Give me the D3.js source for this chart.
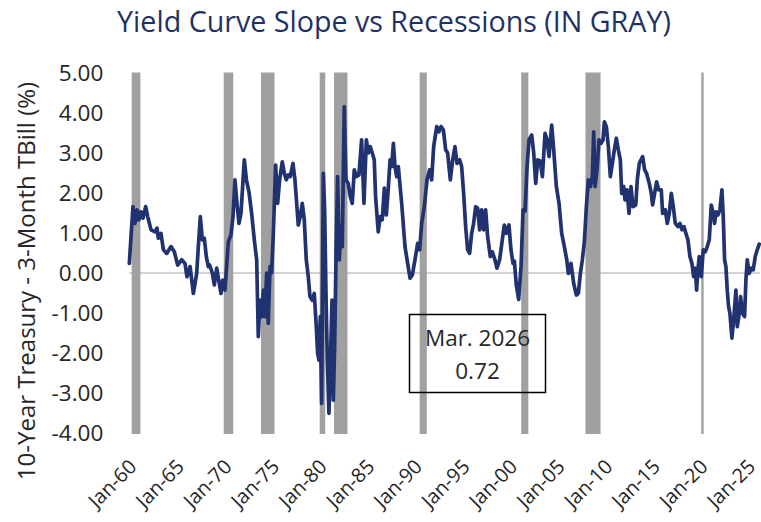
<!DOCTYPE html>
<html>
<head>
<meta charset="utf-8">
<script src="https://cdn.jsdelivr.net/npm/d3@7"></script>
<style>
  html, body { margin: 0; padding: 0; background: #ffffff; }
  svg { display: block; font-family: "Open Sans", "Noto Sans", sans-serif; }
</style>
</head>
<body>
<svg id="chart" width="761" height="522"></svg>
<script>
// ---------------- DATA ----------------
const titleText = "Yield Curve Slope vs Recessions (IN GRAY)";
const yAxisTitle = "10-Year Treasury - 3-Month TBill (%)";

// decimal year of each reading
const dates = [
  1960.00,1960.18,1960.39,1960.60,1960.81,1961.02,1961.23,1961.44,1961.72,1961.93,
  1962.28,1962.70,1962.91,1963.05,1963.33,1963.58,1963.93,1964.38,1964.73,1965.08,
  1965.50,1965.85,1966.06,1966.38,1966.73,1967.08,1967.25,1967.46,1967.67,1967.88,
  1968.09,1968.30,1968.44,1968.72,1968.93,1969.18,1969.42,1969.63,1969.81,1970.05,
  1970.22,1970.40,1970.68,1970.89,1971.10,1971.31,1971.52,1971.73,1972.08,1972.30,
  1972.57,1972.85,1973.13,1973.38,1973.55,1973.73,1973.90,1974.08,1974.25,1974.43,
  1974.60,1974.78,1974.95,1975.13,1975.37,1975.58,1975.79,1976.07,1976.28,1976.49,
  1976.70,1976.91,1977.19,1977.40,1977.75,1977.96,1978.17,1978.38,1978.59,1978.80,
  1978.98,1979.22,1979.43,1979.64,1979.78,1979.92,1980.06,1980.20,1980.38,1980.52,
  1980.66,1980.80,1980.97,1981.15,1981.29,1981.43,1981.57,1981.71,1981.88,1982.06,
  1982.23,1982.37,1982.58,1982.76,1983.00,1983.21,1983.42,1983.63,1983.88,1984.12,
  1984.40,1984.65,1984.90,1985.10,1985.31,1985.52,1985.73,1985.87,1986.15,1986.36,
  1986.57,1986.79,1987.00,1987.20,1987.39,1987.56,1987.74,1987.91,1988.09,1988.26,
  1988.61,1988.96,1989.24,1989.49,1989.73,1990.01,1990.29,1990.50,1990.71,1990.99,
  1991.27,1991.55,1991.76,1991.97,1992.29,1992.53,1992.74,1992.99,1993.23,1993.44,
  1993.72,1993.97,1994.21,1994.42,1994.70,1994.91,1995.12,1995.33,1995.54,1995.75,
  1995.96,1996.17,1996.38,1996.59,1996.80,1997.01,1997.22,1997.43,1997.64,1997.92,
  1998.13,1998.41,1998.62,1998.90,1999.18,1999.39,1999.60,1999.88,2000.09,2000.31,
  2000.45,2000.65,2000.90,2001.15,2001.36,2001.57,2001.78,2001.99,2002.27,2002.48,
  2002.69,2002.90,2003.15,2003.39,2003.67,2003.88,2004.09,2004.37,2004.58,2004.86,
  2005.14,2005.42,2005.70,2005.95,2006.12,2006.40,2006.68,2006.96,2007.17,2007.38,
  2007.59,2007.80,2008.01,2008.22,2008.43,2008.64,2008.78,2008.92,2009.13,2009.34,
  2009.55,2009.76,2009.90,2010.11,2010.32,2010.53,2010.74,2010.95,2011.16,2011.37,
  2011.58,2011.72,2011.93,2012.07,2012.28,2012.49,2012.70,2012.91,2013.20,2013.36,
  2013.57,2013.92,2014.13,2014.34,2014.62,2014.83,2014.97,2015.18,2015.39,2015.60,
  2015.88,2016.02,2016.30,2016.51,2016.72,2016.93,2017.14,2017.35,2017.63,2017.84,
  2018.05,2018.26,2018.47,2018.68,2018.89,2019.10,2019.28,2019.45,2019.59,2019.73,
  2019.87,2020.08,2020.29,2020.50,2020.71,2020.92,2021.13,2021.34,2021.48,2021.62,
  2021.83,2022.04,2022.25,2022.39,2022.53,2022.67,2022.81,2022.95,2023.09,2023.30,
  2023.51,2023.72,2023.86,2024.07,2024.21,2024.42,2024.63,2024.77,2024.91,2025.12,
  2025.33,2025.54,2025.75,2025.96,2026.17
];

// 10-year Treasury minus 3-month T-bill (%)
const spread = [
  0.24,0.91,1.66,1.24,1.58,1.33,1.53,1.37,1.66,1.41,
  1.08,1.03,1.12,0.87,0.99,0.58,0.49,0.66,0.53,0.20,
  0.33,0.24,-0.09,0.16,-0.51,-0.01,0.66,1.41,0.83,0.87,
  0.41,0.16,0.20,0.00,-0.30,0.12,-0.22,-0.51,-0.18,-0.43,
  0.16,0.78,0.95,1.41,2.33,1.74,1.24,1.49,2.83,2.33,
  2.03,1.49,0.83,0.33,-1.59,-0.68,-1.09,-0.43,-1.09,0.00,
  -1.26,0.16,0.00,0.99,2.70,1.74,2.33,2.78,2.49,2.33,
  2.45,2.41,2.74,2.33,1.20,1.41,1.74,1.33,0.33,-0.09,
  -0.59,-0.68,-0.51,-1.34,-2.00,-2.18,-1.09,-3.26,2.49,1.58,
  -0.51,-2.18,-3.51,-2.00,-0.68,-3.18,-1.84,0.33,2.41,0.33,
  1.16,0.66,4.16,2.33,2.24,1.91,1.74,2.58,2.41,2.45,
  3.33,1.74,3.33,3.00,3.16,3.00,2.83,1.91,1.03,1.41,
  1.33,2.12,1.45,2.10,2.83,2.66,3.24,2.66,2.41,2.66,
  1.74,0.66,0.24,-0.13,-0.05,0.33,0.74,0.58,1.24,1.66,
  2.33,2.58,2.33,3.16,3.66,3.53,3.66,3.58,3.08,3.00,
  2.33,2.83,3.16,2.74,2.83,2.66,1.99,1.16,0.58,0.49,
  0.99,1.24,1.66,1.62,1.08,1.58,1.08,1.58,0.91,0.41,
  0.53,0.33,0.12,0.33,0.83,1.20,0.99,1.20,0.58,0.24,
  0.30,-0.30,-0.66,0.16,1.58,1.55,2.66,3.33,3.45,3.00,
  2.24,2.83,2.80,2.41,3.49,3.33,2.91,3.70,3.08,2.16,
  1.74,0.99,0.66,0.33,-0.01,0.24,-0.26,-0.55,-0.51,-0.01,
  0.33,0.78,1.66,2.33,2.16,2.41,3.53,2.16,2.58,3.33,
  3.24,3.33,3.78,3.66,3.16,2.41,2.74,3.08,3.37,3.08,
  2.83,1.99,2.16,1.83,2.08,1.49,2.16,1.66,1.70,2.33,
  2.74,2.91,2.58,2.49,2.24,1.99,1.70,1.99,2.28,2.08,
  2.08,1.49,1.58,1.24,1.49,1.99,1.66,1.24,1.16,1.24,
  1.08,1.16,0.99,0.83,0.41,0.24,-0.09,0.12,-0.43,0.08,
  0.41,-0.09,0.58,0.53,0.66,0.83,1.70,1.49,1.24,1.53,
  1.45,1.58,2.08,1.41,0.33,0.16,-0.43,-0.84,-1.01,-1.63,
  -1.09,-0.43,-1.34,-1.01,-0.59,-1.01,-1.09,-0.18,0.33,-0.01,
  0.12,0.08,0.41,0.58,0.72
];

// NBER recessions (first and last month)
const recessionStart = ["1960-04","1969-12","1973-11","1980-01","1981-07","1990-07","2001-03","2007-12","2020-02"];
const recessionEnd   = ["1961-02","1970-11","1975-03","1980-07","1982-11","1991-03","2001-11","2009-06","2020-04"];

const yTickValues = [-4, -3, -2, -1, 0, 1, 2, 3, 4, 5];
const xTickYears  = [1960, 1965, 1970, 1975, 1980, 1985, 1990, 1995, 2000, 2005, 2010, 2015, 2020, 2025];
const monthNames  = ["Jan.","Feb.","Mar.","Apr.","May","Jun.","Jul.","Aug.","Sep.","Oct.","Nov.","Dec."];

// ---------------- LAYOUT ----------------
const svg = d3.select("#chart");
const plot = { left: 129.3, right: 760, top: 73, bottom: 433 };
const navy = "#213270";

const toYear = s => { const [y, m] = s.split("-").map(Number); return y + (m - 1) / 12; };

const x = d3.scaleLinear().domain([1960, 2026.25]).range([plot.left, plot.right]);
const y = d3.scaleLinear().domain([-4, 5]).range([plot.bottom, plot.top]);

// zero line
svg.append("line")
  .attr("x1", plot.left).attr("x2", plot.right)
  .attr("y1", y(0)).attr("y2", y(0))
  .attr("stroke", "#a6a6a6").attr("stroke-width", 1);

// recession bars
svg.append("g").selectAll("rect")
  .data(recessionStart.map((s, i) => ({ s: toYear(s), e: toYear(recessionEnd[i]) + 1 / 12 })))
  .join("rect")
  .attr("x", d => x(d.s))
  .attr("width", d => x(d.e) - x(d.s))
  .attr("y", y(5) - 0.5)
  .attr("height", y(-4) - y(5) + 1.5)
  .attr("fill", "#a0a0a0");

// y axis
const yAxis = svg.append("g")
  .attr("transform", `translate(${plot.left - 26},0)`)
  .call(d3.axisLeft(y).tickValues(yTickValues).tickFormat(d => d.toFixed(2)).tickSize(0).tickPadding(0));
yAxis.select(".domain").remove();
yAxis.selectAll("text")
  .attr("font-family", "Open Sans").attr("font-size", 22.5).attr("fill", "#262626")
  .attr("dy", "0.35em");

// x axis
const xAxis = svg.append("g")
  .attr("transform", `translate(0,${plot.bottom})`)
  .call(d3.axisBottom(x).tickValues(xTickYears).tickFormat(d => "Jan-" + String(d).slice(2)).tickSize(0));
xAxis.select(".domain").remove();
xAxis.selectAll("text")
  .attr("font-family", "Open Sans").attr("font-size", 20).attr("fill", "#262626")
  .attr("text-anchor", "end")
  .attr("x", 0).attr("y", 0).attr("dy", 0)
  .attr("transform", "translate(8,35) rotate(-45)");

// series line
const pts = dates.map((d, i) => [d, spread[i]]);
svg.append("path")
  .datum(pts)
  .attr("fill", "none")
  .attr("stroke", navy)
  .attr("stroke-width", 3.7)
  .attr("stroke-linejoin", "round")
  .attr("stroke-linecap", "round")
  .attr("d", d3.line().x(d => x(d[0])).y(d => y(d[1])));

// title
const title = svg.append("text")
  .attr("x", 394).attr("y", 32)
  .attr("text-anchor", "middle")
  .attr("font-family", "Open Sans")
  .attr("font-size", 30)
  .attr("fill", "#1f3164")
  .text(titleText);
const tw = title.node().getComputedTextLength();
title.attr("font-size", 30 * 554 / tw);

// y axis title
svg.append("text")
  .attr("transform", "translate(35,281) rotate(-90)")
  .attr("text-anchor", "middle")
  .attr("font-family", "Open Sans")
  .attr("font-size", 24)
  .attr("fill", "#262626")
  .text(yAxisTitle);

// annotation for latest reading
const lastDate = dates[dates.length - 1];
const lastVal = spread[spread.length - 1];
const lastYear = Math.floor(lastDate);
const lastMonth = Math.round((lastDate - lastYear) * 12);
const box = { x: 409.5, y: 314.5, w: 136, h: 78 };
svg.append("rect")
  .attr("x", box.x).attr("y", box.y).attr("width", box.w).attr("height", box.h)
  .attr("fill", "none").attr("stroke", "#000").attr("stroke-width", 1.5);
svg.append("text")
  .attr("x", box.x + box.w / 2).attr("y", box.y + 31)
  .attr("text-anchor", "middle").attr("font-family", "Open Sans").attr("font-size", 22.5).attr("fill", "#262626")
  .text(`${monthNames[lastMonth]} ${lastYear}`);
svg.append("text")
  .attr("x", box.x + box.w / 2).attr("y", box.y + 64)
  .attr("text-anchor", "middle").attr("font-family", "Open Sans").attr("font-size", 22.5).attr("fill", "#262626")
  .text(lastVal.toFixed(2));
</script>
</body>
</html>
